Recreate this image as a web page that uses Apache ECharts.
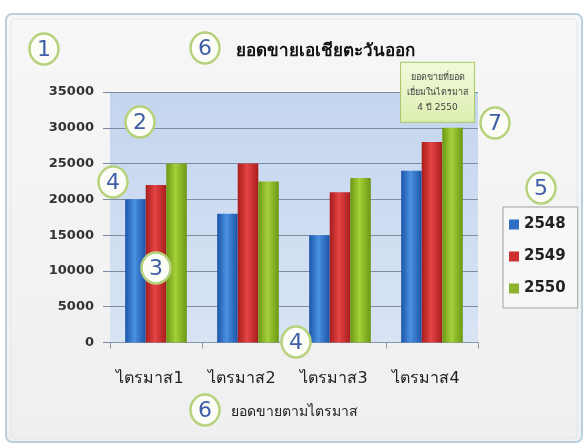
<!DOCTYPE html>
<html>
<head>
<meta charset="utf-8">
<script src="https://cdn.jsdelivr.net/npm/echarts@6/dist/echarts.min.js"></script>
<style>
html,body{margin:0;padding:0;background:#ffffff;}
#c{width:586px;height:448px;}
</style>
</head>
<body>
<div id="c"></div>
<script>
const categories = ['ไตรมาส1', 'ไตรมาส2', 'ไตรมาส3', 'ไตรมาส4'];
const seriesNames = ['2548', '2549', '2550'];
const values2548 = [20000, 18000, 15000, 24000];
const values2549 = [22000, 25000, 21000, 28000];
const values2550 = [25000, 22500, 23000, 30000];
const yTicks = [0, 5000, 10000, 15000, 20000, 25000, 30000, 35000];
const titleText = 'ยอดขายเอเชียตะวันออก';
const xAxisTitle = 'ยอดขายตามไตรมาส';
const calloutText = 'ยอดขายที่ยอด\nเยี่ยมในไตรมาส\n4 ปี 2550';

const FONT = "Tahoma, 'DejaVu Sans', 'Noto Sans', sans-serif";

function cyl(dark, light) {
  return {type:'linear', x:0, y:0, x2:1, y2:0, colorStops:[
    {offset:0, color:dark},{offset:0.45, color:light},{offset:1, color:dark}]};
}
const colors = [cyl('#1b55a8', '#4a90e2'), cyl('#a81c1c', '#e44444'), cyl('#6a9814', '#a6d03a')];
const legendColors = ['#2e6ec4', '#cc3030', '#8cb42c'];

function circleMark(cx, cy, num) {
  return {
    type:'group', x:cx, y:cy,
    children:[
      {type:'ellipse', z:100, zlevel:1, shape:{cx:0, cy:0, rx:14.5, ry:15.5},
       style:{fill:'#fbfdf6', stroke:'#b7d27c', lineWidth:2.5}},
      {type:'text', z:101, zlevel:1, x:0, y:1, style:{text:String(num), fill:'#3f5ea8', font:'22px ' + FONT, align:'center', verticalAlign:'middle'}}
    ]
  };
}

const chart = echarts.init(document.getElementById('c'));
const data2550 = values2550.map((v, i) => i === values2550.length - 1 ? {
  value: v,
  label: {
    show:true, position:'top', distance:6, offset:[-15, 0],
    formatter: calloutText,
    fontFamily: FONT, fontSize:9, color:'#444', lineHeight:15, align:'center',
    backgroundColor: {type:'linear', x:0, y:0, x2:0, y2:1, colorStops:[{offset:0,color:'#f2f9dc'},{offset:1,color:'#dcefb0'}]},
    borderColor:'#a9c766', borderWidth:1, padding:[7, 6, 7, 6]
  }
} : v);

const seriesValues = [values2548, values2549, data2550];

chart.setOption({
  backgroundColor: '#ffffff',
  animation: false,
  textStyle: {fontFamily: FONT},
  title: {
    text: titleText, left: 231, top: 38,
    textStyle: {fontFamily: FONT, fontSize: 17, fontWeight: 'bold', color: '#111'}
  },
  legend: {
    orient: 'vertical', left: 503, top: 207,
    data: seriesNames.map((n, i) => ({name:n, itemStyle:{color:legendColors[i]}})),
    icon: 'rect', itemWidth: 10, itemHeight: 10, itemGap: 17,
    padding: [10, 12, 12, 6],
    borderColor: '#a0a0a0', borderWidth: 1, backgroundColor: '#f7f7f7',
    textStyle: {fontFamily: FONT, fontSize: 15, fontWeight: 'bold', color: '#222'}
  },
  grid: {
    left: 110, right: 108, top: 92, bottom: 105.5,
    show: true, borderWidth: 0,
    backgroundColor: {type:'linear', x:0, y:0, x2:0, y2:1, colorStops:[{offset:0,color:'#c4d5ee'},{offset:1,color:'#d8e4f4'}]}
  },
  xAxis: {
    type: 'category', data: categories,
    axisLine: {show:true, lineStyle:{color:'#8796ab', width:1}},
    axisTick: {show:true, length:6, lineStyle:{color:'#8796ab'}},
    axisLabel: {margin: 28, fontFamily: FONT, fontSize: 16, color: '#222', padding:[0, 12, 0, 0]},
    name: xAxisTitle, nameLocation: 'middle', nameGap: 63,
    nameTextStyle: {fontFamily: FONT, fontSize: 14, color: '#222'}
  },
  yAxis: {
    type: 'value', min: yTicks[0], max: yTicks[yTicks.length - 1], interval: yTicks[1] - yTicks[0],
    axisLine: {show:false},
    axisTick: {show:true, length:7, lineStyle:{color:'#7d8ca2'}},
    axisLabel: {margin: 16, fontFamily: FONT, fontSize: 13, fontWeight: 'bold', color: '#333', formatter: v => String(v)},
    splitLine: {show:true, lineStyle:{color:'#7d8ca2', width:1}}
  },
  series: seriesNames.map((n, i) => ({
    name: n, type: 'bar', data: seriesValues[i],
    barGap: '0%', barCategoryGap: '33%',
    itemStyle: {color: colors[i]}
  })),
  graphic: [
    {type:'rect', z:-10, shape:{x:6, y:14, width:576, height:428, r:6},
     style:{fill:{type:'linear', x:0, y:0, x2:0, y2:1, colorStops:[{offset:0,color:'#f7f7f7'},{offset:1,color:'#efefef'}]}, stroke:'#b9d0e0', lineWidth:2}},
    {type:'rect', z:-9, shape:{x:11, y:19, width:566, height:419, r:4},
     style:{fill:'none', stroke:'#dce8ee', lineWidth:1}},
    circleMark(44, 49, 1),
    circleMark(205, 48, 6),
    circleMark(140, 122, 2),
    circleMark(113, 182, 4),
    circleMark(156, 268, 3),
    circleMark(296, 342, 4),
    circleMark(541, 188, 5),
    circleMark(495, 123, 7),
    circleMark(205, 410, 6)
  ]
});
</script>
</body>
</html>
